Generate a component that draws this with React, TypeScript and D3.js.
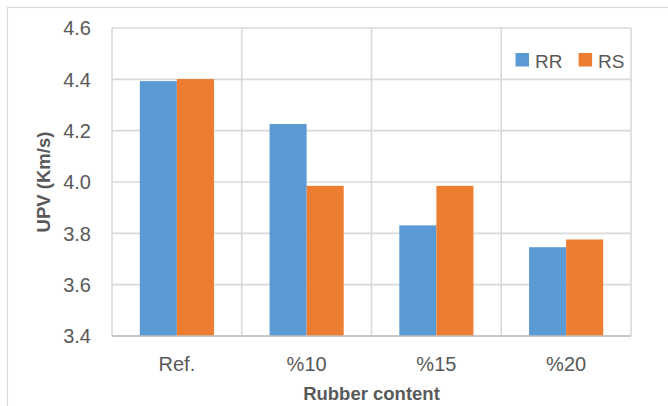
import React from "react";
import * as d3 from "d3";

// 고무 함량별 UPV 값
const categories = ["Ref.", "%10", "%15", "%20"];
const seriesNames = ["RR", "RS"];
const rrValues = [4.393, 4.226, 3.831, 3.746];
const rsValues = [4.401, 3.985, 3.985, 3.776];
const yTicks = [3.4, 3.6, 3.8, 4.0, 4.2, 4.4, 4.6];
const colors = ["#5B9BD5", "#ED7D31"];

const App: React.FC = () => {
  const width = 668;
  const height = 406;
  const plot = { left: 112, right: 631, top: 28, bottom: 336 };
  const font = "'Liberation Sans', Arial, sans-serif";
  const textColor = "#595959";
  const gridColor = "#D9D9D9";

  const x0 = d3.scaleBand<string>().domain(categories).range([plot.left, plot.right]);
  // Excel 간격 너비 150% 정도
  const x1 = d3.scaleBand<string>().domain(seriesNames).range([0, x0.bandwidth()]).paddingInner(0).paddingOuter(0.75);
  const y = d3.scaleLinear().domain([3.4, 4.6]).range([plot.bottom, plot.top]);

  const values = [rrValues, rsValues];

  // 카테고리 경계선 (수직 그리드)
  const boundaries = categories.map((c) => x0(c) as number).concat([plot.right]);

  return (
    <svg width={width} height={height} style={{ position: "absolute", left: 0, top: 0, background: "#fff" }}>
      <rect x={7.5} y={7.5} width={720} height={440} fill="#fff" stroke={gridColor} strokeWidth={1.2} />

      {/* 가로 그리드 */}
      {yTicks.map((t) => (
        <line key={t} x1={plot.left} x2={plot.right} y1={y(t)} y2={y(t)} stroke={gridColor} strokeWidth={1.6} />
      ))}
      {/* 세로 그리드 */}
      {boundaries.map((bx, i) => (
        <line key={i} x1={bx} x2={bx} y1={plot.top} y2={plot.bottom} stroke={gridColor} strokeWidth={1.6} />
      ))}

      {/* 막대 */}
      {seriesNames.map((s, si) =>
        categories.map((c, ci) => (
          <rect
            key={s + c}
            x={(x0(c) as number) + (x1(s) as number)}
            y={y(values[si][ci])}
            width={x1.bandwidth()}
            height={y(3.4) - y(values[si][ci])}
            fill={colors[si]}
          />
        ))
      )}

      {/* x축 선 */}
      <line x1={plot.left} x2={plot.right} y1={plot.bottom} y2={plot.bottom} stroke="#BFBFBF" strokeWidth={1.6} />

      {/* y축 눈금 라벨 */}
      {yTicks.map((t) => (
        <text key={t} x={91} y={y(t)} dy="0.36em" textAnchor="end" fontFamily={font} fontSize={20} fill={textColor}>
          {t.toFixed(1)}
        </text>
      ))}

      {/* x축 라벨 */}
      {categories.map((c) => (
        <text key={c} x={(x0(c) as number) + x0.bandwidth() / 2} y={371} textAnchor="middle" fontFamily={font} fontSize={20} fill={textColor}>
          {c}
        </text>
      ))}

      {/* 축 제목 */}
      <text x={(plot.left + plot.right) / 2} y={400} textAnchor="middle" fontFamily={font} fontSize={18.5} fontWeight="bold" fill={textColor}>
        Rubber content
      </text>
      <text
        transform={`translate(50,${(plot.top + plot.bottom) / 2}) rotate(-90)`}
        textAnchor="middle"
        fontFamily={font}
        fontSize={18.5}
        fontWeight="bold"
        fill={textColor}
      >
        UPV (Km/s)
      </text>

      {/* 범례 */}
      {seriesNames.map((s, i) => {
        const lx = [515.5, 578.6][i];
        return (
          <g key={s}>
            <rect x={lx} y={53} width={13.5} height={13.5} fill={colors[i]} />
            <text x={lx + 19.5} y={67.5} fontFamily={font} fontSize={19} fill={textColor}>
              {s}
            </text>
          </g>
        );
      })}
    </svg>
  );
};

export default App;
